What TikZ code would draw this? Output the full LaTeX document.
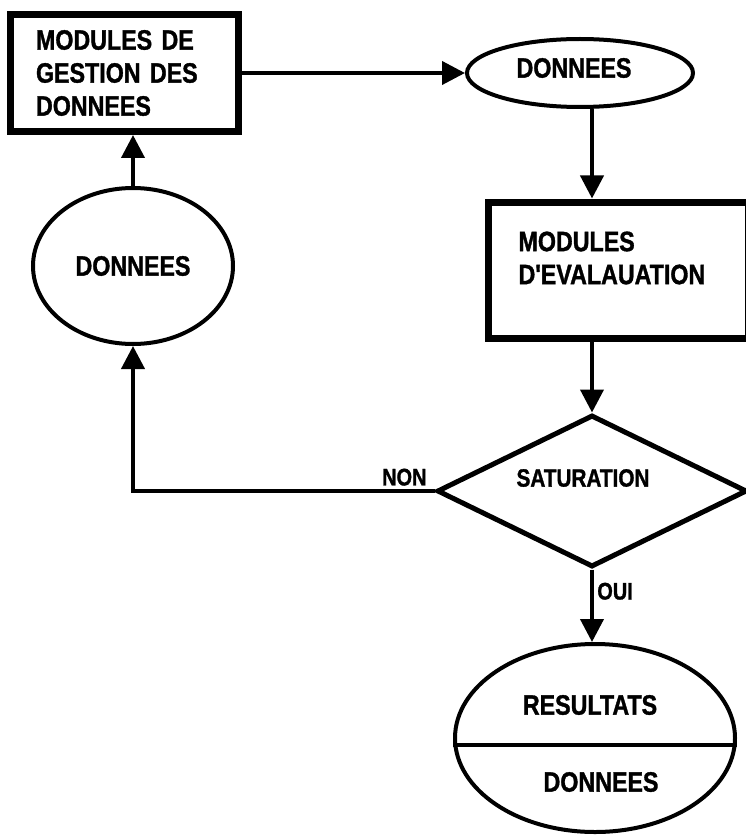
\documentclass[tikz,border=0pt]{standalone}
\usepackage{fontspec}
\newfontfamily\flowfont{Liberation Sans}[FakeStretch=0.83, FakeBold=1.2]
\usetikzlibrary{arrows.meta,shapes.geometric}

\begin{document}
\begin{tikzpicture}[x=1pt, y=-1pt,
    every node/.style={font=\flowfont\bfseries\fontsize{28}{33}\selectfont},
    module/.style={draw, rectangle, line width=7pt, inner sep=0pt},
    store/.style={draw, ellipse, line width=4pt, inner sep=0pt},
    small/.style={font=\flowfont\bfseries\fontsize{24}{28}\selectfont},
    flow/.style={line width=4pt, -{Triangle[length=23pt, width=23pt]}}]
    \useasboundingbox (0, 0) rectangle (746, 837);
    % boxes and stores
    \node[module, minimum width=228pt, minimum height=117pt,
	text width=176pt, align=left] (gestion) at (124, 73)
	{MODULES DE\\GESTION DES\\DONNEES};
    \node[store, minimum width=226pt, minimum height=68pt] (donnees1) at (580, 73) {};
    \node (d1text) at (574, 68) {DONNEES};
    \node[module, minimum width=260pt, minimum height=136pt] (evaluation) at (618, 270) {};
    \node[anchor=west, align=left] (evaltext) at (515, 258) {MODULES\\D'EVALAUATION};
    \node[store, minimum width=200pt, minimum height=156pt] (donnees2) at (133, 266) {DONNEES};
    \node[draw, diamond, line width=5pt, inner sep=0pt,
	minimum width=310pt, minimum height=152pt] (saturation) at (592, 491) {};
    \node[font=\flowfont\bfseries\fontsize{25}{30}\selectfont] (sattext) at (583, 478) {SATURATION};
    \node[store, minimum width=280pt, minimum height=188pt] (resultats) at (595, 738) {};
    \draw[line width=4pt] ([yshift=-7pt]resultats.west) -- ([yshift=-7pt]resultats.east);
    \node (restext) at (590, 705) {RESULTATS};
    \node (resdata) at (601, 782) {DONNEES};
    % connectors
    \draw[flow] (gestion.east) -- (donnees1.west);
    \draw[flow] (saturation |- donnees1.south) -- (saturation |- evaluation.north);
    \draw[flow] (saturation |- evaluation.south) -- (saturation.north);
    \draw[flow] (saturation.south) -- (saturation |- resultats.north)
	node [small, pos=0.3, right] {OUI};
    \draw[flow] (saturation.west) -- (donnees2 |- saturation.west)
	node [small, pos=0.1, above] {NON} -- (donnees2.south);
    \draw[flow] (donnees2.north) -- (donnees2 |- gestion.south);
\end{tikzpicture}
\end{document}
